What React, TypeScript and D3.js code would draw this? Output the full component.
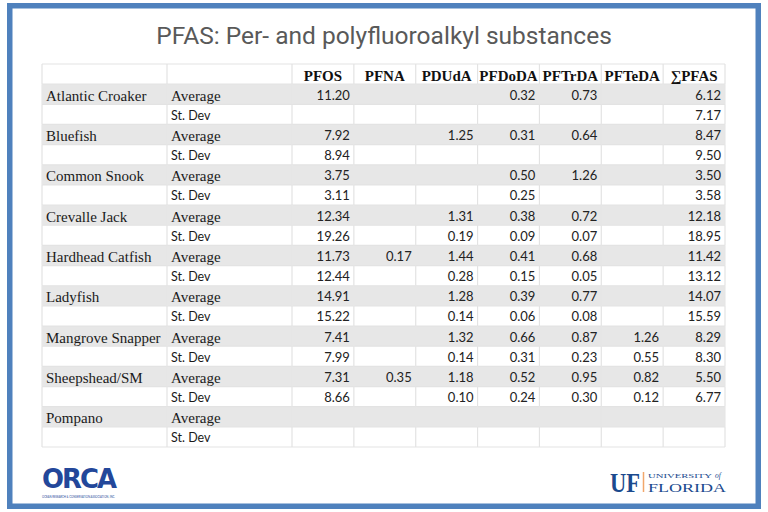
import React from "react";
import * as d3 from "d3";

const TITLE = "PFAS: Per- and polyfluoroalkyl substances";
const species = [
  "Atlantic Croaker",
  "Bluefish",
  "Common Snook",
  "Crevalle Jack",
  "Hardhead Catfish",
  "Ladyfish",
  "Mangrove Snapper",
  "Sheepshead/SM",
  "Pompano",
];
const statLabels = ["Average", "St. Dev"];
const columns = ["PFOS", "PFNA", "PDUdA", "PFDoDA", "PFTrDA", "PFTeDA", "∑PFAS"];

type V = number | null;
// averages per column, in species order
const avgPFOS: V[] = [11.2, 7.92, 3.75, 12.34, 11.73, 14.91, 7.41, 7.31, null];
const avgPFNA: V[] = [null, null, null, null, 0.17, null, null, 0.35, null];
const avgPDUdA: V[] = [null, 1.25, null, 1.31, 1.44, 1.28, 1.32, 1.18, null];
const avgPFDoDA: V[] = [0.32, 0.31, 0.5, 0.38, 0.41, 0.39, 0.66, 0.52, null];
const avgPFTrDA: V[] = [0.73, 0.64, 1.26, 0.72, 0.68, 0.77, 0.87, 0.95, null];
const avgPFTeDA: V[] = [null, null, null, null, null, null, 1.26, 0.82, null];
const avgSum: V[] = [6.12, 8.47, 3.5, 12.18, 11.42, 14.07, 8.29, 5.5, null];
// standard deviations per column
const sdPFOS: V[] = [null, 8.94, 3.11, 19.26, 12.44, 15.22, 7.99, 8.66, null];
const sdPFNA: V[] = [null, null, null, null, null, null, null, null, null];
const sdPDUdA: V[] = [null, null, null, 0.19, 0.28, 0.14, 0.14, 0.1, null];
const sdPFDoDA: V[] = [null, null, 0.25, 0.09, 0.15, 0.06, 0.31, 0.24, null];
const sdPFTrDA: V[] = [null, null, null, 0.07, 0.05, 0.08, 0.23, 0.3, null];
const sdPFTeDA: V[] = [null, null, null, null, null, null, 0.55, 0.12, null];
const sdSum: V[] = [7.17, 9.5, 3.58, 18.95, 13.12, 15.59, 8.3, 6.77, null];

const avgCols = [avgPFOS, avgPFNA, avgPDUdA, avgPFDoDA, avgPFTrDA, avgPFTeDA, avgSum];
const sdCols = [sdPFOS, sdPFNA, sdPDUdA, sdPFDoDA, sdPFTrDA, sdPFTeDA, sdSum];

const W = 768;
const H = 512;
const SERIF = "'Liberation Serif', 'Times New Roman', serif";
const SANS = "Lato, 'Noto Sans', sans-serif";

export default function App() {
  const tableLeft = 42;
  const labelW = 125;
  const numLeft = tableLeft + 2 * labelW;
  const tableRight = 725;
  const tableTop = 64;
  const tableBottom = 447;

  const nRows = 1 + species.length * 2;
  const y = d3
    .scaleBand<number>()
    .domain(d3.range(nRows))
    .range([tableTop, tableBottom])
    .padding(0);
  const x = d3
    .scaleBand<string>()
    .domain(columns)
    .range([numLeft, tableRight])
    .padding(0);
  const rh = y.bandwidth();
  const cw = x.bandwidth();
  const fmt = d3.format(".2f");

  const colEdges = [tableLeft, tableLeft + labelW, numLeft, ...columns.map((c) => (x(c) as number) + cw)];

  const rows: { si: number; k: number; idx: number }[] = [];
  species.forEach((_, si) => {
    rows.push({ si, k: 0, idx: 1 + si * 2 });
    rows.push({ si, k: 1, idx: 2 + si * 2 });
  });

  return (
    <svg width={W} height={H} style={{ position: "absolute", left: 0, top: 0, background: "#fff" }}>
      <rect x={0} y={0} width={W} height={H} fill="#ffffff" />
      {/* frame */}
      <rect x={9.75} y={5.75} width={748.5} height={500.5} fill="#ffffff" stroke="#4f81bd" strokeWidth={5.5} />
      {/* title */}
      <text
        x={384}
        y={44}
        textAnchor="middle"
        fontFamily="Roboto, sans-serif"
        fontWeight={400}
        fontSize={24.5}
        fill="#595959"
      >
        {TITLE}
      </text>

      {/* table fills */}
      <rect x={tableLeft} y={tableTop} width={tableRight - tableLeft} height={tableBottom - tableTop} fill="#ffffff" />
      {rows
        .filter((r) => r.k === 0)
        .map((r) => (
          <rect
            key={"bg" + r.idx}
            x={tableLeft}
            y={y(r.idx) as number}
            width={tableRight - tableLeft}
            height={rh}
            fill="#e7e7e7"
          />
        ))}
      {/* grid lines */}
      {d3.range(nRows + 1).map((i) => {
        const yy = i < nRows ? (y(i) as number) : tableBottom;
        return (
          <line key={"h" + i} x1={tableLeft} x2={tableRight} y1={yy} y2={yy} stroke="#e3e3e3" strokeWidth={1.2} />
        );
      })}
      {d3.range(nRows).map((i) =>
        colEdges.map((cx, j) => (
          <line
            key={"v" + i + "-" + j}
            x1={cx}
            x2={cx}
            y1={y(i) as number}
            y2={(y(i) as number) + rh}
            stroke={i > 0 && (i - 1) % 2 === 0 ? "#e7e7e7" : "#e3e3e3"}
            strokeWidth={1.2}
          />
        ))
      )}

      {/* header */}
      {columns.map((c) => (
        <text
          key={"hd" + c}
          x={(x(c) as number) + cw / 2}
          y={tableTop + 16.5}
          textAnchor="middle"
          fontFamily={SERIF}
          fontWeight="bold"
          fontSize={15}
          fill="#111"
        >
          {c}
        </text>
      ))}

      {/* body */}
      {rows.map((r) => {
        const top = y(r.idx) as number;
        const vals = r.k === 0 ? avgCols : sdCols;
        return (
          <g key={"r" + r.idx}>
            {r.k === 0 && (
              <text x={tableLeft + 4} y={top + 16.5} fontFamily={SERIF} fontSize={15} fill="#1a1a1a">
                {species[r.si]}
              </text>
            )}
            {r.k === 0 ? (
              <text x={tableLeft + labelW + 4} y={top + 16.5} fontFamily={SERIF} fontSize={15} fill="#1a1a1a">
                {statLabels[0]}
              </text>
            ) : (
              <text x={tableLeft + labelW + 4} y={top + 15.5} fontFamily={SANS} fontSize={12.5} fill="#1a1a1a">
                {statLabels[1]}
              </text>
            )}
            {columns.map((c, ci) => {
              const v = vals[ci][r.si];
              if (v === null || v === undefined) return null;
              return (
                <text
                  key={c}
                  x={(x(c) as number) + cw - 4}
                  y={top + 15.5}
                  textAnchor="end"
                  fontFamily={SANS}
                  fontSize={13}
                  fill="#222"
                >
                  {fmt(v)}
                </text>
              );
            })}
          </g>
        );
      })}

      {/* ORCA logo */}
      <text
        x={42}
        y={488}
        fontFamily="'DejaVu Sans', sans-serif"
        fontWeight="bold"
        fontSize={26}
        letterSpacing={-2}
        fill="#23479a"
        textLength={73}
        lengthAdjust="spacingAndGlyphs"
      >
        ORCA
      </text>
      <text x={42} y={498} fontFamily={SANS} fontSize={3} fill="#23479a" textLength={73} lengthAdjust="spacingAndGlyphs">
        OCEAN RESEARCH &amp; CONSERVATION ASSOCIATION, INC.
      </text>

      {/* UF logo */}
      <text
        x={610}
        y={492}
        fontFamily={SERIF}
        fontWeight="bold"
        fontSize={27}
        fill="#1b4a8e"
        textLength={30}
        lengthAdjust="spacingAndGlyphs"
      >
        UF
      </text>
      <line x1={643.5} x2={643.5} y1={472} y2={492} stroke="#f2a76b" strokeWidth={1.5} />
      <text x={648} y={477.5} fontFamily={SERIF} fontSize={6.5} fill="#1b4a8e" textLength={64} lengthAdjust="spacingAndGlyphs">
        UNIVERSITY
      </text>
      <text x={715} y={477.5} fontFamily={SERIF} fontStyle="italic" fontSize={7.5} fill="#1b4a8e">
        of
      </text>
      <text x={648} y={492} fontFamily={SERIF} fontSize={13.5} fill="#1b4a8e" textLength={78} lengthAdjust="spacingAndGlyphs">
        FLORIDA
      </text>
    </svg>
  );
}
